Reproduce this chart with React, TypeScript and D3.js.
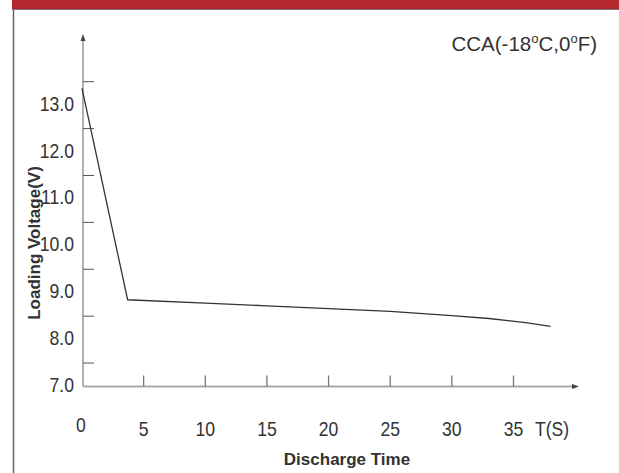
import React, { useEffect, useRef } from 'react';
import * as d3 from 'd3';

// discharge curve: seconds vs loaded voltage
const times = [0, 3.7, 10, 15, 20, 25, 30, 33, 36, 38];
const volts = [13.36, 8.85, 8.78, 8.72, 8.66, 8.6, 8.51, 8.45, 8.36, 8.28];

const xTickValues = [5, 10, 15, 20, 25, 30, 35];
const xLabels = ['0', '5', '10', '15', '20', '25', '30', '35'];
const yLabels = ['7.0', '8.0', '9.0', '10.0', '11.0', '12.0', '13.0'];
const yTickValues = [7.5, 8.5, 9.5, 10.5, 11.5, 12.5, 13.5];

const W = 619;
const H = 473;
const font = '"Liberation Sans", Arial, sans-serif';
const axisColor = '#a9a9a9';
const textColor = '#333';
const narrow = 0.88; // tick labels look condensed

const App = () => {
  const svgRef = useRef<SVGSVGElement>(null);

  useEffect(() => {
    const svg = d3.select(svgRef.current);
    svg.selectAll('*').remove();

    const x = d3.scaleLinear().domain([0, 35]).range([82, 513.5]);
    const y = d3.scaleLinear().domain([7, 13.5]).range([386.5, 81.7]);

    // frame: red banner, rule under it, left border
    svg.append('rect').attr('x', 12).attr('y', 0).attr('width', W - 12).attr('height', 9).attr('fill', '#b5282e');
    svg.append('line').attr('x1', 12).attr('x2', W).attr('y1', 9.5).attr('y2', 9.5).attr('stroke', '#777').attr('stroke-width', 1);
    svg.append('line').attr('x1', 13.5).attr('x2', 13.5).attr('y1', 9).attr('y2', H).attr('stroke', '#666').attr('stroke-width', 1.5);

    const ax = svg.append('g').attr('stroke', axisColor).attr('stroke-width', 1.8);
    const x0 = 83;
    const yBase = y(7);
    // y axis with arrow
    ax.append('line').attr('x1', x0).attr('x2', x0).attr('y1', yBase).attr('y2', 40);
    svg.append('path')
      .attr('d', `M${x0},34 L${x0 - 2.5},41 L${x0 + 2.5},41 Z`)
      .attr('fill', '#444');
    // x axis with arrow
    ax.append('line').attr('x1', x0).attr('x2', 572).attr('y1', yBase).attr('y2', yBase);
    svg.append('path')
      .attr('d', `M579,${yBase} L572,${yBase - 2.5} L572,${yBase + 2.5} Z`)
      .attr('fill', '#444');

    ax.selectAll('line.yt')
      .data(yTickValues)
      .join('line')
      .attr('class', 'yt')
      .attr('x1', x0)
      .attr('x2', x0 + 11)
      .attr('y1', (d) => y(d))
      .attr('y2', (d) => y(d))
      .attr('stroke', '#555')
      .attr('stroke-width', 1);

    ax.selectAll('line.xt')
      .data(xTickValues)
      .join('line')
      .attr('class', 'xt')
      .attr('x1', (d) => x(d))
      .attr('x2', (d) => x(d))
      .attr('y1', yBase)
      .attr('y2', yBase - 11)
      .attr('stroke', '#777')
      .attr('stroke-width', 1.3);

    const txt = svg.append('g').attr('font-family', font).attr('fill', textColor);

    txt.selectAll('text.yl')
      .data(yLabels)
      .join('text')
      .attr('class', 'yl')
      .attr('transform', (d) => `translate(74,${y(+d) + 5.5}) scale(${narrow},1)`)
      .attr('text-anchor', 'end')
      .attr('font-size', 20)
      .text((d) => d);

    txt.selectAll('text.xl')
      .data(xLabels)
      .join('text')
      .attr('class', 'xl')
      .attr('transform', (d) => `translate(${x(+d) + (d === '0' ? -1 : 0)},${d === '0' ? 432 : 436}) scale(${narrow},1)`)
      .attr('text-anchor', 'middle')
      .attr('font-size', 20)
      .text((d) => d);

    txt.append('text')
      .attr('transform', `translate(552,436) scale(${narrow},1)`)
      .attr('text-anchor', 'middle')
      .attr('font-size', 20)
      .text('T(S)');

    txt.append('text')
      .attr('x', 347)
      .attr('y', 465)
      .attr('text-anchor', 'middle')
      .attr('font-size', 17)
      .attr('font-weight', 'bold')
      .text('Discharge Time');

    txt.append('text')
      .attr('transform', 'translate(40,243) rotate(-90)')
      .attr('text-anchor', 'middle')
      .attr('font-size', 17)
      .attr('font-weight', 'bold')
      .text('Loading Voltage(V)');

    const title = txt.append('text').attr('x', 597).attr('y', 51).attr('text-anchor', 'end').attr('font-size', 20.5);
    title.append('tspan').text('CCA(-18');
    title.append('tspan').attr('dy', -8).attr('font-size', 13).text('o');
    title.append('tspan').attr('dy', 8).text('C,0');
    title.append('tspan').attr('dy', -8).attr('font-size', 13).text('o');
    title.append('tspan').attr('dy', 8).text('F)');

    const pts = times.map((t, i) => [t, volts[i]] as [number, number]);
    const lineGen = d3.line<[number, number]>()
      .x((d) => x(d[0]))
      .y((d) => y(d[1]));
    svg.append('path')
      .attr('d', lineGen(pts) as string)
      .attr('fill', 'none')
      .attr('stroke', '#333')
      .attr('stroke-width', 1.3);
  }, []);

  return (
    <svg
      ref={svgRef}
      width={W}
      height={H}
      style={{ position: 'absolute', left: 0, top: 0, background: '#fff' }}
    ></svg>
  );
};

export default App;
